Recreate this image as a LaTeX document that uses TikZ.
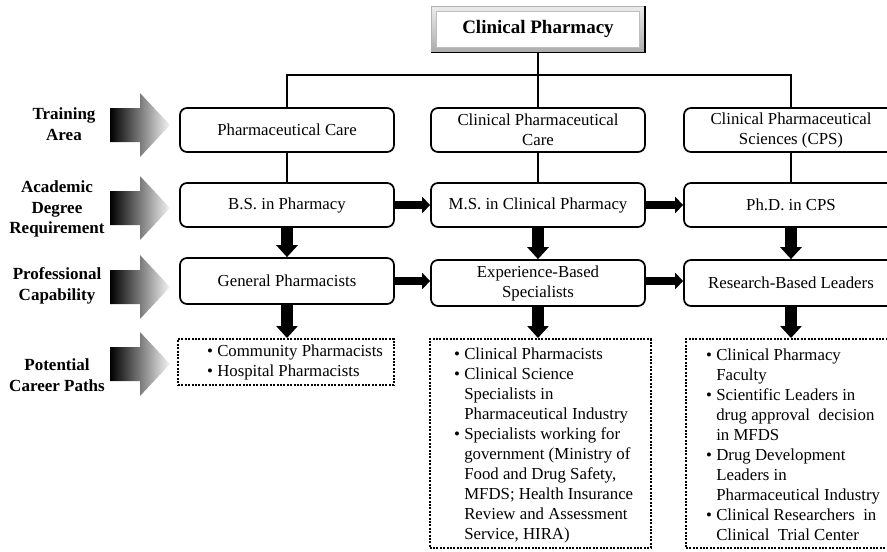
\documentclass[tikz,border=0pt]{standalone}
\usepackage{fontspec}
\setmainfont{Liberation Serif}
\usetikzlibrary{arrows.meta,calc}
\newcommand{\cbul}{\textbullet\ }
\newcommand{\cind}{\hphantom{\textbullet\ }}
\begin{document}
\begin{tikzpicture}[x=1pt,y=-1pt,
 box/.style={draw, line width=1.7pt, rounded corners=7pt, minimum width=214pt, minimum height=44pt, align=center, inner sep=2pt, font=\fontsize{16.8}{20}\selectfont},
 tallbox/.style={box, minimum height=46pt},
 dotbox/.style={draw, line width=2pt, dash pattern=on 2pt off 1.4pt, inner sep=0pt},
 itemtext/.style={anchor=west, inner sep=0pt, align=left, font=\fontsize{16.8}{20}\selectfont},
 lab/.style={align=center, font=\bfseries\fontsize{17}{20.5}\selectfont, inner sep=0pt},
 link/.style={line width=1.6pt},
 harrow/.style={line width=8pt, -{Triangle[length=8pt,width=16pt]}},
 varrow/.style={line width=12pt, -{Triangle[length=12pt,width=21pt]}},
 bigarrow/.style={left color=black, right color=gray!8},
 titlebox/.style={draw=gray!60, line width=0.6pt, minimum width=213pt, minimum height=46pt, inner sep=0pt,
   font=\bfseries\fontsize{19}{22}\selectfont,
   path picture={\shade[top color=gray!15, bottom color=gray!65] (path picture bounding box.south west) rectangle (path picture bounding box.north east);
     \filldraw[fill=white, draw=gray!50, line width=0.5pt] ([shift={(5,5)}]path picture bounding box.north west) rectangle ([shift={(-5,-5)}]path picture bounding box.south east);}},
]
\useasboundingbox (0,0) rectangle (887,552);
\clip (0,0) rectangle (887,552);

% title
\node[titlebox] (title) at (538,29) {Clinical Pharmacy};
\draw[line width=1.4pt] (title.north east) -- (title.south east) -- (title.south west);

% row 1
\node[box] (pc)  at (287,130) {Pharmaceutical Care};
\node[box] (cpc) at (538,130) {Clinical Pharmaceutical\\Care};
\node[box] (cps) at (791,130) {Clinical Pharmaceutical\\Sciences (CPS)};
% row 2
\node[box] (bs)  at (287,205) {B.S. in Pharmacy};
\node[box] (ms)  at (538,205) {M.S. in Clinical Pharmacy};
\node[box] (phd) at (791,205) {Ph.D. in CPS};
% row 3
\node[tallbox] (gp) at (287,281) {General Pharmacists};
\node[tallbox] (eb) at (538,283) {Experience-Based\\Specialists};
\node[tallbox] (rb) at (791,283) {Research-Based Leaders};

% dotted boxes
\node[dotbox, minimum width=216pt, minimum height=46pt] (dL) at (286,362) {};
\node[dotbox, minimum width=221pt, minimum height=209pt] (dM) at (540,443.5) {};
\node[dotbox, minimum width=214pt, minimum height=209pt] (dR) at (793,443.5) {};

\node[itemtext] (tL) at (207,362) {\cbul Community Pharmacists\\\cbul Hospital Pharmacists};
\node[itemtext] (tM) at (454,445) {\cbul Clinical Pharmacists\\
\cbul Clinical Science\\
\cind Specialists in\\
\cind Pharmaceutical Industry\\
\cbul Specialists working for\\
\cind government (Ministry of\\
\cind Food and Drug Safety,\\
\cind MFDS; Health Insurance\\
\cind Review and Assessment\\
\cind Service, HIRA)};
\node[itemtext] (tR) at (706,445) {\cbul Clinical Pharmacy\\
\cind Faculty\\
\cbul Scientific Leaders in\\
\cind drug approval~ decision\\
\cind in MFDS\\
\cbul Drug Development\\
\cind Leaders in\\
\cind Pharmaceutical Industry\\
\cbul Clinical Researchers~ in\\
\cind Clinical~ Trial Center};

% thin connectors
\coordinate (bar) at (0,75);
\draw[link] (title.south) -- (cpc.north);
\draw[link] (pc.north) -- (pc.north |- bar) -- (cps.north |- bar) -- (cps.north);
\draw[link] (pc) -- (bs);
\draw[link] (cpc) -- (ms);
\draw[link] (cps) -- (phd);

% thick arrows
\draw[harrow] (bs) -- (ms);
\draw[harrow] (ms) -- (phd);
\draw[harrow] (gp.east |- 0,281) -- (eb.west |- 0,281);
\draw[harrow] (eb.east |- 0,281) -- (rb.west |- 0,281);
\draw[varrow] (bs) -- (gp);
\draw[varrow] (ms) -- (eb);
\draw[varrow] (phd) -- (rb);
\draw[varrow] (gp.south) -- (gp.south |- dL.north);
\draw[varrow] (eb.south) -- (eb.south |- dM.north);
\draw[varrow] (rb.south) -- (rb.south |- dR.north);

% gradient arrows
\foreach \c in {125,208,287,364}{
  \shade[bigarrow] (110,{\c-17}) -- (140,{\c-17}) -- (140,{\c-32}) -- (170,\c) -- (140,{\c+32}) -- (140,{\c+17}) -- (110,{\c+17}) -- cycle;
}

% row labels
\node[lab] (l1) at (64,124) {Training\\Area};
\node[lab] (l2) at (57,209) {Academic\\Degree\\Requirement};
\node[lab] (l3) at (57,286) {Professional\\Capability};
\node[lab] (l4) at (57,375) {Potential\\Career Paths};
\end{tikzpicture}
\end{document}
